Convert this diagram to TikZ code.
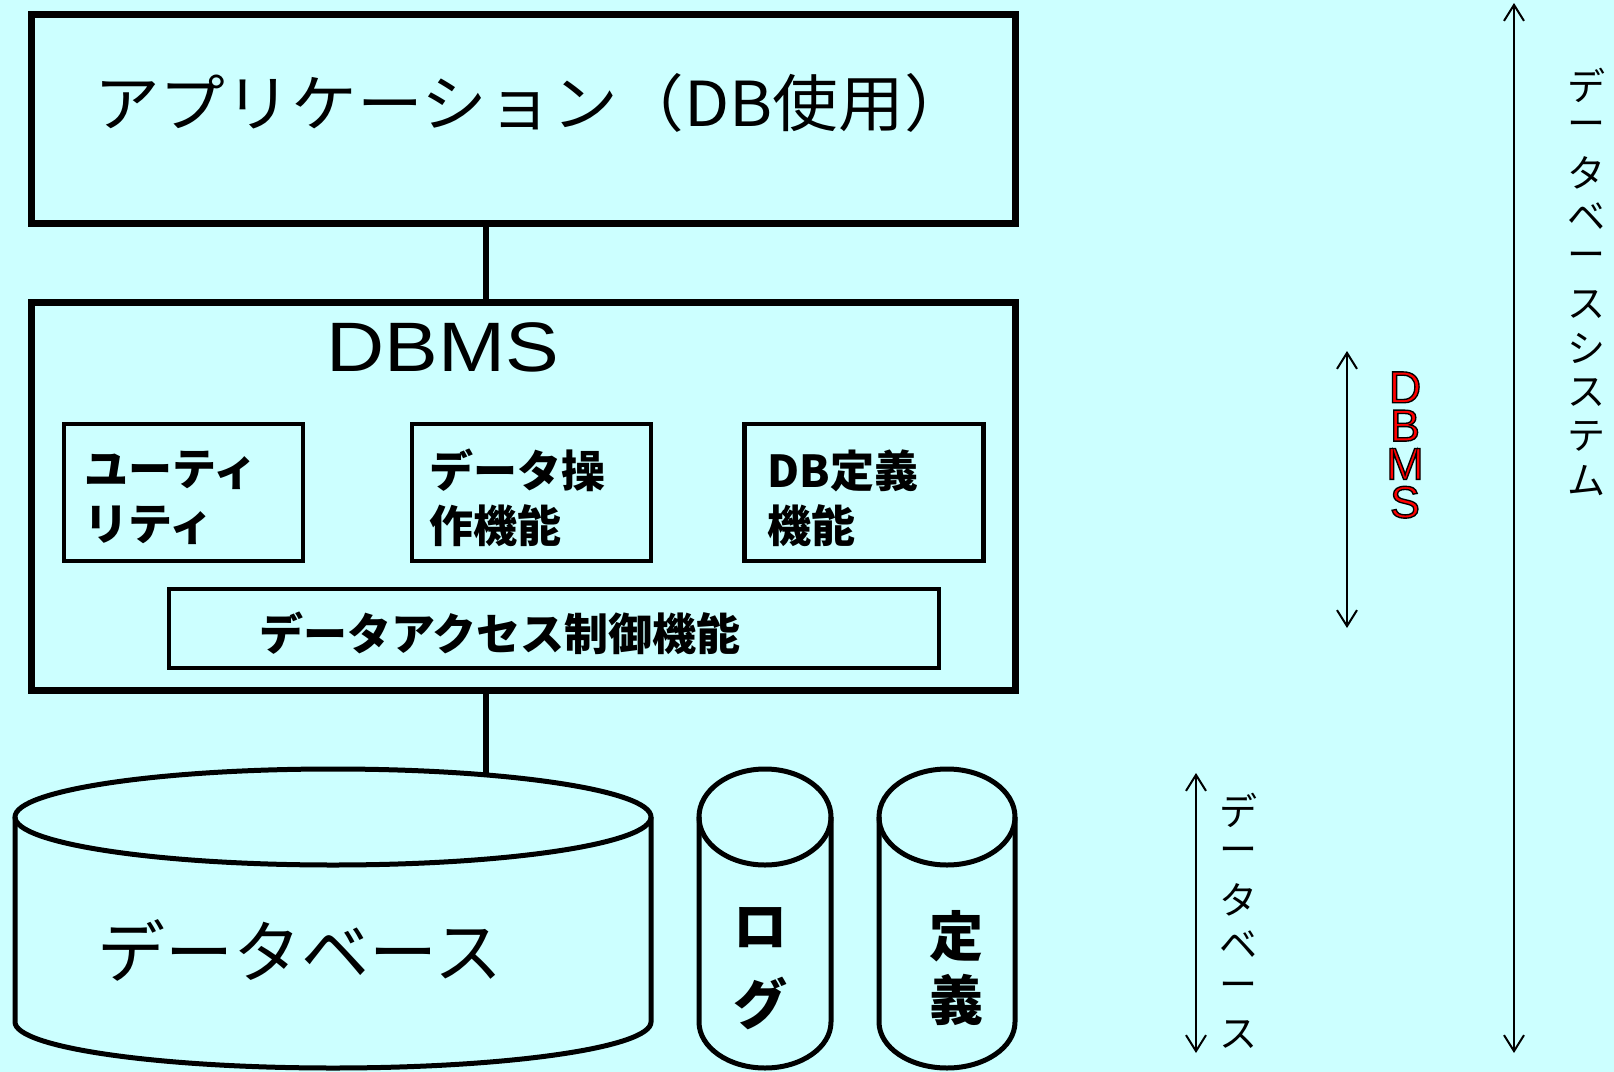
\documentclass[tikz,border=0pt]{standalone}
\usepackage{fontspec}
\usetikzlibrary{arrows.meta}
\newfontfamily\jp{Noto Sans CJK JP}
\newfontfamily\arial{Liberation Sans}
\newfontfamily\arialrim[FakeBold=3]{Liberation Sans}
\definecolor{panel}{HTML}{CCFFFF}
\newcommand\redrim[1]{\special{pdf:bcolor [1 0 0] [0 0 0]}#1\special{pdf:ecolor}}
\tikzset{
    frame/.style={draw,line width=3.5pt,inner sep=0pt},
    unit/.style={draw,line width=2.2pt,inner sep=0pt,minimum width=119.5pt,minimum height=68.5pt},
    unittext/.style={font=\jp\bfseries\fontsize{22}{27.5}\selectfont,align=left,anchor=west,inner sep=0pt},
    drum/.style={line width=2.5pt},
    drumtext/.style={font=\jp\bfseries\fontsize{27}{27}\selectfont,inner sep=0pt},
    link/.style={line width=3pt},
    span/.style={line width=1pt,{Straight Barb[length=8pt,width=10pt]}-{Straight Barb[length=8pt,width=10pt]}},
    vlabel/.style={font=\jp\fontsize{19}{19}\selectfont,inner sep=0pt},
    redlabel/.style={font=\arialrim\fontsize{22.5}{19.15}\selectfont,align=center,inner sep=0pt}
}
\begin{document}
\begin{tikzpicture}[x=0.5pt,y=-0.5pt]
    \fill[panel] (0,0) rectangle (1614,1072);
    \useasboundingbox (0,0) rectangle (1614,1072);
    %% application
    \node[frame,minimum width=492pt,minimum height=104.5pt] (app) at (523,118.5) {};
    \node[font=\jp\fontsize{31}{31}\selectfont] (app-text) at (532,103) {\scalebox{1.06}[1]{アプリケーション（DB使用）}};
    %% DBMS
    \node[frame,minimum width=492pt,minimum height=194pt] (dbms) at (523,496) {};
    \node[font=\arial\fontsize{35}{35}\selectfont] (dbms-title) at (443,347) {\scalebox{1.15}[1]{DBMS}};
    \node[unit] (util) at (183.5,492.5) {};
    \node[unit] (ops) at (531.5,492.5) {};
    \node[unit] (def) at (864,492.5) {};
    \node[unittext] (util-text) at (84,498) {ユーティ\\リティ};
    \node[unittext] (ops-text) at (429,498) {データ操\\作機能};
    \node[unittext] (def-text) at (767,498) {DB定義\\機能};
    \node[unit,minimum width=385pt,minimum height=39.5pt] (access) at (554,628.5) {};
    \node[font=\jp\bfseries\fontsize{22}{22}\selectfont] (access-text) at (500,633) {データアクセス制御機能};
    %% links
    \coordinate (axis) at (486,0);
    \coordinate (db-top) at (486,775);
    \draw[link] (app.south -| axis) -- (dbms.north -| axis);
    \draw[link] (dbms.south -| axis) -- (db-top);
    %% cylinders
    \foreach \cx/\rx in {333/318,765/66,947/68}{
        \draw[drum] (\cx-\rx,817) -- (\cx-\rx,1022) arc[start angle=180,end angle=0,x radius=\rx,y radius=46] -- (\cx+\rx,817);
        \draw[drum] (\cx,817) ellipse[x radius=\rx,y radius=48];
    }
    \node[font=\jp\fontsize{34}{34}\selectfont] (db-text) at (300,950) {データベース};
    \node[drumtext] (log-1) at (760,928) {ロ};
    \node[drumtext] (log-2) at (760,1003) {グ};
    \node[drumtext] (defs-1) at (956,936) {定};
    \node[drumtext] (defs-2) at (956,1000) {義};
    %% spans
    \coordinate (sys-top) at (1514,3);
    \coordinate (sys-bot) at (1514,1053);
    \coordinate (dbms-top) at (1347,351);
    \coordinate (dbms-bot) at (1347,628);
    \coordinate (base-top) at (1196,773);
    \coordinate (base-bot) at (1196,1053);
    \draw[span] (sys-top) -- (sys-bot);
    \draw[span] (dbms-top) -- (dbms-bot);
    \draw[span] (base-top) -- (base-bot);
    \foreach \c [count=\i] in {デ,ー,タ,ベ,ー,ス,シ,ス,テ,ム}
        \node[vlabel] (sys-\i) at (1586,{85+43.9*(\i-1)}) {\c};
    \foreach \c [count=\i] in {デ,ー,タ,ベ,ー,ス}
        \node[vlabel] (base-\i) at (1238,{810+45*(\i-1)}) {\c};
    \node[redlabel] (dbms-label) at (1405,445) {\redrim{D}\\\redrim{B}\\\redrim{M}\\\redrim{S}};
\end{tikzpicture}
\end{document}
